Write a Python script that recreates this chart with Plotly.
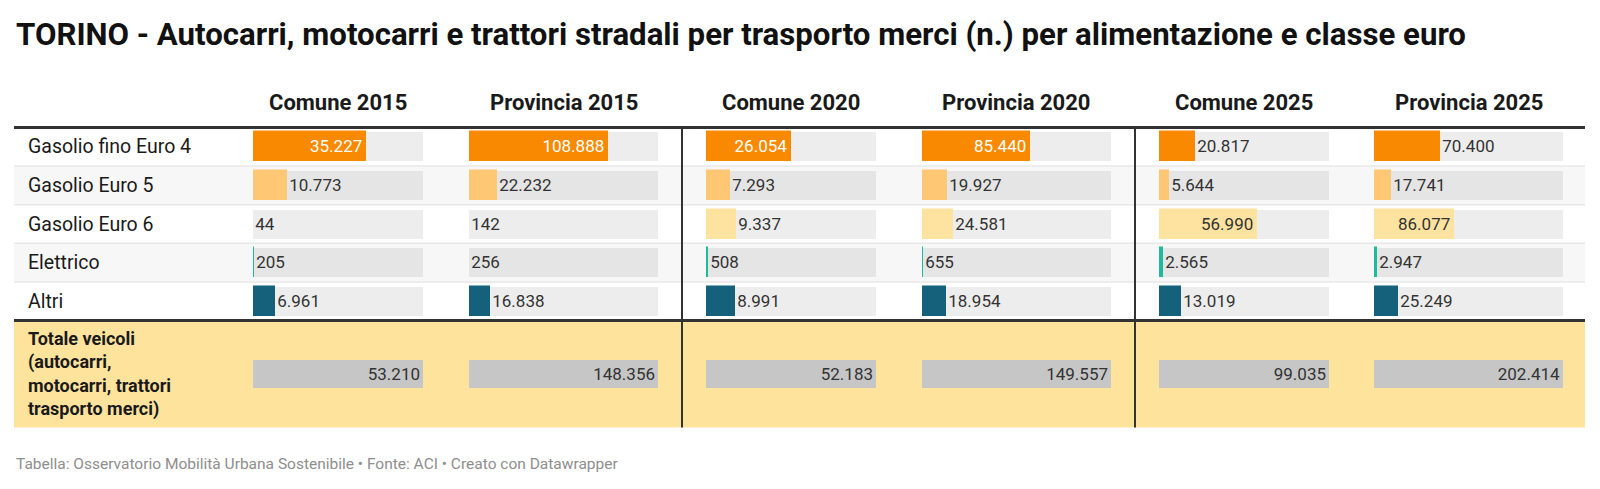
''' plot.py - TORINO table of goods vehicles per fuel and euro class, Datawrapper-style bars in Plotly '''

import plotly.graph_objects as go

categories = ["Gasolio fino Euro 4", "Gasolio Euro 5", "Gasolio Euro 6", "Elettrico", "Altri"]
columns = ["Comune 2015", "Provincia 2015", "Comune 2020", "Provincia 2020", "Comune 2025", "Provincia 2025"]
comune_2015 = [35227, 10773, 44, 205, 6961]
provincia_2015 = [108888, 22232, 142, 256, 16838]
comune_2020 = [26054, 7293, 9337, 508, 8991]
provincia_2020 = [85440, 19927, 24581, 655, 18954]
comune_2025 = [20817, 5644, 56990, 2565, 13019]
provincia_2025 = [70400, 17741, 86077, 2947, 25249]
totals = [53210, 148356, 52183, 149557, 99035, 202414]
total_label = "Totale veicoli<br>(autocarri,<br>motocarri, trattori<br>trasporto merci)"

series = [comune_2015, provincia_2015, comune_2020, provincia_2020, comune_2025, provincia_2025]

# Styling
W, H = 1600, 489
FONT = "Roboto"
DARK = "#333333"
BAR_COLORS = ["#f98a00", "#fec774", "#fee3a0", "#1abc9c", "#15607a"]
INSIDE_TEXT = ["#ffffff", DARK, DARK, DARK, DARK]
TRACK = "rgba(0,0,0,0.07)"
TOTAL_BAR = "#c6c6c6"
TOTAL_BG = "#fee39d"
STRIPE = "#f7f7f7"

# Table geometry in pixels (y axis is set up in pixel units, top to bottom)
TABLE_LEFT, TABLE_RIGHT = 14, 1585
LABEL_X = 26
COL_SPANS = [(253, 423), (469, 658), (706, 876), (922, 1111), (1159, 1329), (1374, 1563)]
HEADER_Y = 102
BODY_TOP = 127.5
ROW_H = 38.6
TOTAL_BOTTOM = 427.5
BAR_W = 29


def fmt(v: int) -> str:
    ''' Italian thousands separator '''
    return f"{v:,}".replace(",", ".")


row_y = [BODY_TOP + (i + 0.5) * ROW_H for i in range(len(categories))]
total_top = BODY_TOP + len(categories) * ROW_H
total_y = (total_top + TOTAL_BOTTOM) / 2

fig = go.Figure()

for c, (name, vals, tot) in enumerate(zip(columns, series, totals)):
    xa = "x" if c == 0 else f"x{c + 1}"

    # Grey background track (scaled to column total)
    fig.add_trace(go.Bar(
        x=[tot] * len(vals), y=row_y, orientation="h", width=BAR_W,
        marker=dict(color=TRACK, line=dict(width=0)),
        xaxis=xa, yaxis="y", hoverinfo="skip", showlegend=False,
    ))

    # Value bars: label inside when the bar is wide enough
    inside = [v / tot > 0.4 for v in vals]
    fig.add_trace(go.Bar(
        x=vals, y=row_y, orientation="h", width=BAR_W,
        marker=dict(color=BAR_COLORS, line=dict(color=BAR_COLORS, width=1.5)),
        text=[fmt(v) for v in vals],
        textposition=["inside" if i else "outside" for i in inside],
        insidetextanchor="end",
        constraintext="none",
        textfont=dict(family=FONT, size=17,
                      color=[INSIDE_TEXT[k] if inside[k] else DARK for k in range(len(vals))]),
        cliponaxis=False,
        xaxis=xa, yaxis="y", showlegend=False, name=name,
    ))

    # Total bar
    fig.add_trace(go.Bar(
        x=[tot], y=[total_y], orientation="h", width=BAR_W - 1,
        marker=dict(color=TOTAL_BAR, line=dict(width=0)),
        text=[fmt(tot)], textposition="inside", insidetextanchor="end",
        constraintext="none",
        textfont=dict(family=FONT, size=17, color=DARK),
        xaxis=xa, yaxis="y", showlegend=False, name=name,
    ))

    x0, x1 = COL_SPANS[c]
    fig.update_layout({
        ("xaxis" if c == 0 else f"xaxis{c + 1}"): dict(
            domain=[x0 / W, x1 / W], range=[0, tot], anchor="y",
            visible=False, fixedrange=True,
        )
    })
    fig.add_annotation(
        x=(x0 + x1) / 2 / W, xref="paper", y=HEADER_Y, yref="y",
        text=f"<b>{name}</b>", showarrow=False, xanchor="center", yanchor="middle",
        font=dict(family=FONT, size=22, color="#1a1a1a"),
    )

# Row labels
for lab, y in zip(categories, row_y):
    fig.add_annotation(
        x=LABEL_X / W, xref="paper", y=y, yref="y", text=lab, showarrow=False,
        xanchor="left", yanchor="middle", font=dict(family=FONT, size=19.5, color="#1a1a1a"),
    )
fig.add_annotation(
    x=LABEL_X / W, xref="paper", y=total_y, yref="y", text=f"<b>{total_label}</b>",
    showarrow=False, xanchor="left", yanchor="middle", align="left",
    font=dict(family=FONT, size=18, color="#1a1a1a"),
)

# Row backgrounds and rules
shapes = []
for i in range(len(categories)):
    if i % 2 == 1:
        shapes.append(dict(type="rect", xref="paper", yref="y", layer="below",
                           x0=TABLE_LEFT / W, x1=TABLE_RIGHT / W,
                           y0=BODY_TOP + i * ROW_H, y1=BODY_TOP + (i + 1) * ROW_H,
                           fillcolor=STRIPE, line=dict(width=0)))
    if i > 0:
        shapes.append(dict(type="line", xref="paper", yref="y", layer="below",
                           x0=TABLE_LEFT / W, x1=TABLE_RIGHT / W,
                           y0=BODY_TOP + i * ROW_H, y1=BODY_TOP + i * ROW_H,
                           line=dict(color="#e8e8e8", width=1.5)))
shapes.append(dict(type="rect", xref="paper", yref="y", layer="below",
                   x0=TABLE_LEFT / W, x1=TABLE_RIGHT / W, y0=total_top, y1=TOTAL_BOTTOM,
                   fillcolor=TOTAL_BG, line=dict(width=0)))
shapes.append(dict(type="line", xref="paper", yref="y",
                   x0=TABLE_LEFT / W, x1=TABLE_RIGHT / W, y0=BODY_TOP, y1=BODY_TOP,
                   line=dict(color=DARK, width=3)))
shapes.append(dict(type="line", xref="paper", yref="y",
                   x0=TABLE_LEFT / W, x1=TABLE_RIGHT / W, y0=total_top, y1=total_top,
                   line=dict(color=DARK, width=3)))
for a, b in [(1, 2), (3, 4)]:
    xs = (COL_SPANS[a][1] + COL_SPANS[b][0]) / 2 / W
    shapes.append(dict(type="line", xref="paper", yref="y",
                       x0=xs, x1=xs, y0=BODY_TOP, y1=TOTAL_BOTTOM,
                       line=dict(color=DARK, width=2)))

fig.update_layout(
    width=W, height=H,
    margin=dict(l=0, r=0, t=0, b=0),
    paper_bgcolor="white", plot_bgcolor="rgba(0,0,0,0)",
    barmode="overlay", bargap=0,
    yaxis=dict(domain=[0, 1], range=[H, 0], visible=False, fixedrange=True),
    shapes=shapes,
    font=dict(family=FONT),
)

# Title and footer
fig.add_annotation(
    x=TABLE_LEFT / W, xref="paper", y=34, yref="y", showarrow=False,
    text="<b>TORINO - Autocarri, motocarri e trattori stradali per trasporto merci (n.) per alimentazione e classe euro</b>",
    xanchor="left", yanchor="middle", font=dict(family=FONT, size=31.2, color="#111111"),
)
fig.add_annotation(
    x=TABLE_LEFT / W, xref="paper", y=464, yref="y", showarrow=False,
    text="Tabella: Osservatorio Mobilità Urbana Sostenibile • Fonte: ACI • Creato con Datawrapper",
    xanchor="left", yanchor="middle", font=dict(family=FONT, size=15.5, color="#8e8e8e"),
)

# Drop the default page margin so the 1600x489 figure fills the window exactly
fig.write_html(
    "out.html",
    config={"displayModeBar": False},
    post_script="document.body.style.margin='0';document.body.style.overflow='hidden';",
)
